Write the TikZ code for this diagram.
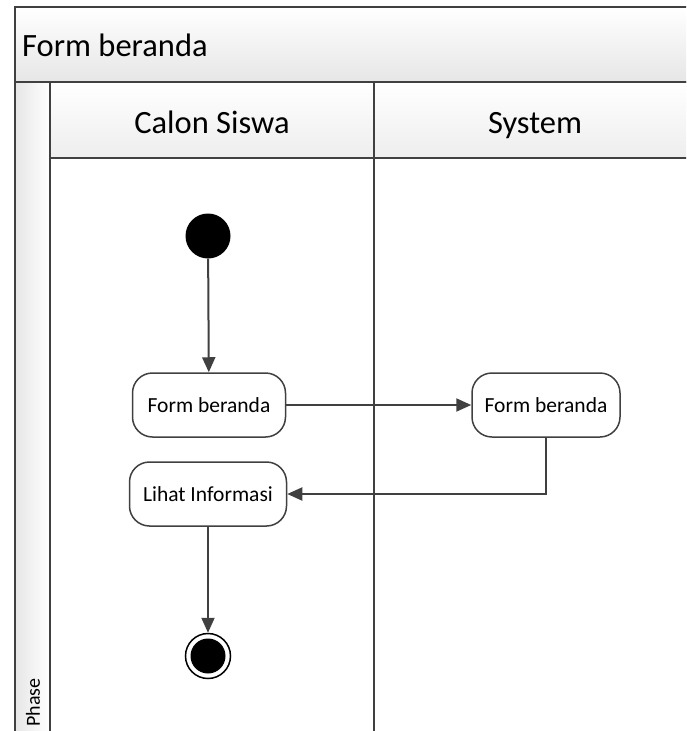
\documentclass[tikz,border=0pt]{standalone}
\usepackage{fontspec}
\setmainfont{Carlito}
\usetikzlibrary{arrows.meta}

\definecolor{edge}{HTML}{404040}
\definecolor{band}{HTML}{E6E6E6}

\tikzset{
  frame/.style={draw=edge, line width=1.4pt},
  bigtext/.style={font=\fontsize{32.5}{38}\selectfont, text=black, inner sep=0pt},
  activity/.style={draw=edge, line width=1.5pt, fill=white, rounded corners=20pt,
    minimum height=64pt, inner sep=0pt, font=\fontsize{21.5}{25}\selectfont},
  flow/.style={draw=edge, line width=2pt,
    -{Triangle[length=15pt, width=13pt]}},
}

\begin{document}
\begin{tikzpicture}[x=1pt, y=-1pt]
  \useasboundingbox (0,0) rectangle (686,731);
  \clip (0,0) rectangle (686,731);

  % pool title band
  \shade[top color=white, bottom color=band] (15,7) rectangle (710,82);
  \draw[frame] (15,7) rectangle (710,82);
  \node[bigtext, anchor=base west] (pool) at (22,56) {Form beranda};

  % phase column on the left
  \shade[left color=band, right color=white] (15,82) rectangle (50,745);
  \draw[frame] (15,82) rectangle (50,745);
  \node[rotate=90, font=\fontsize{20}{24}\selectfont, anchor=west] (phase) at (33,730) {Phase};

  % lane headers
  \shade[top color=white, bottom color=band!70] (50,82) rectangle (710,158);
  \draw[frame] (50,82) rectangle (710,158);
  \draw[frame] (374,82) -- (374,745);
  \node[bigtext, anchor=base] (laneA) at (212,133) {Calon Siswa};
  \node[bigtext, anchor=base] (laneB) at (535,133) {System};

  % activity flow
  \node[circle, fill=black, minimum size=45pt, inner sep=0pt] (start) at (208,236) {};
  \node[activity, minimum width=153pt] (form) at (209,405) {Form beranda};
  \node[activity, minimum width=148pt] (sysform) at (546,405) {Form beranda};
  \node[activity, minimum width=157pt] (info) at (208,494) {Lihat Informasi};
  \node[circle, draw=black, line width=1.5pt, fill=white, minimum size=45pt, inner sep=0pt] (end) at (208,656) {};
  \fill[black] (end.center) circle (17.5pt);

  \draw[flow] (start) -- (form);
  \draw[flow] (form) -- (sysform);
  \draw[flow] (sysform.south) |- (info.east);
  \draw[flow] (info) -- (end);
\end{tikzpicture}
\end{document}
